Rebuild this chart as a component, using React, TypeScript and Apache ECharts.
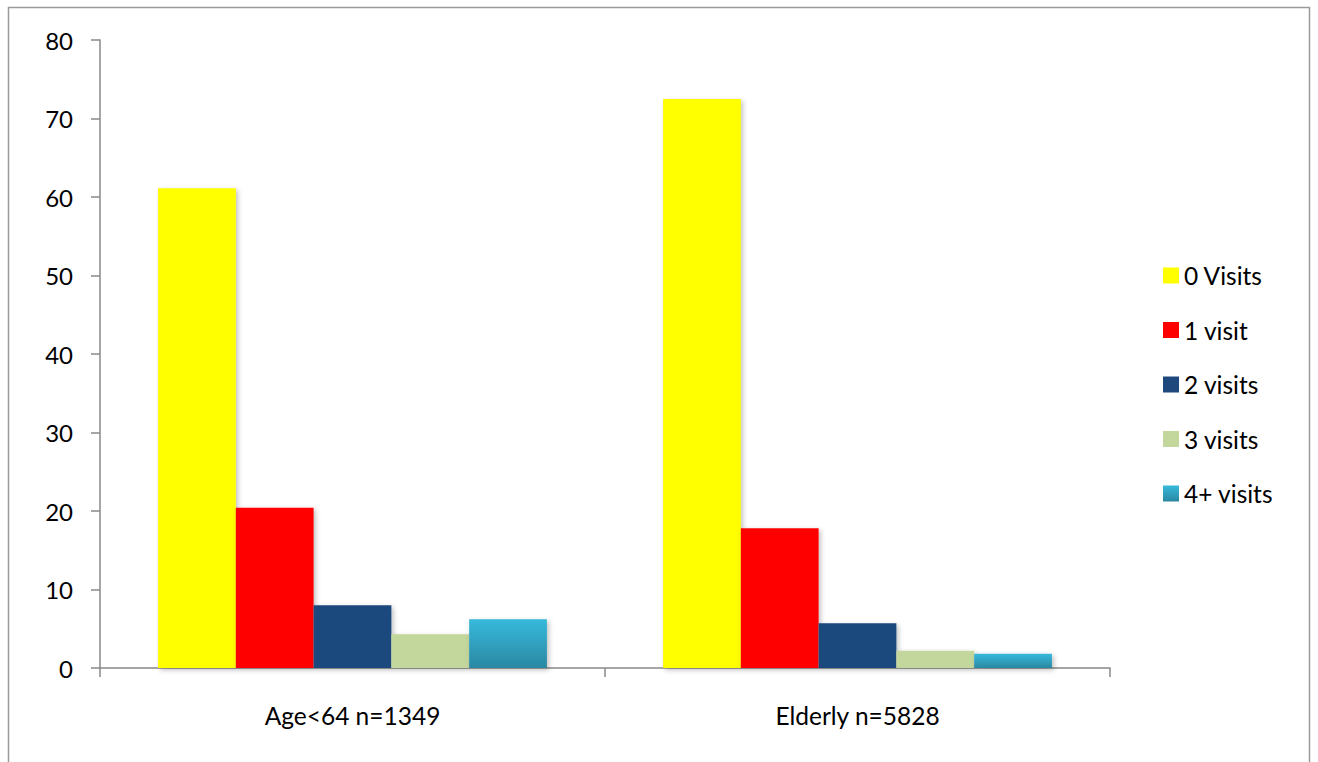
import React, { useEffect, useRef } from "react";
import * as echarts from "echarts";

// Share of patients (%) by number of visits, per age group
const categories = ["Age<64 n=1349", "Elderly n=5828"];
const seriesNames = ["0 Visits", "1 visit", "2 visits", "3 visits", "4+ visits"];
const zeroVisits = [61.1, 72.5];
const oneVisit = [20.4, 17.8];
const twoVisits = [8.0, 5.7];
const threeVisits = [4.3, 2.2];
const fourPlusVisits = [6.2, 1.8];
const yTicks = { min: 0, max: 80, interval: 10 };

const FONT = "Lato, 'Open Sans', sans-serif";

export default function App() {
  const ref = useRef<HTMLDivElement>(null);

  useEffect(() => {
    if (!ref.current) return;
    const chart = echarts.init(ref.current, undefined, { renderer: "svg" });

    const cyanGradient = new echarts.graphic.LinearGradient(0, 0, 0, 1, [
      { offset: 0, color: "#37b9dc" },
      { offset: 1, color: "#2a88a2" },
    ]);
    const colors: any[] = ["#ffff00", "#ff0000", "#1f497d", "#c3d69b", cyanGradient];
    const values = [zeroVisits, oneVisit, twoVisits, threeVisits, fourPlusVisits];

    chart.setOption({
      animation: false,
      backgroundColor: "#ffffff",
      textStyle: { fontFamily: FONT },
      graphic: [
        {
          type: "rect",
          shape: { x: 8.5, y: 7.5, width: 1301, height: 800 },
          style: { fill: "none", stroke: "#9a9a9a", lineWidth: 1.5 },
          silent: true,
          z: -1,
        },
      ],
      grid: { left: 100, top: 40, right: 208, bottom: 94, containLabel: false },
      legend: {
        orient: "vertical",
        left: 1158,
        top: 258,
        itemWidth: 16,
        itemHeight: 16,
        itemGap: 29.5,
        icon: "rect",
        data: seriesNames,
        textStyle: { fontSize: 24.5, color: "#000", fontFamily: FONT, padding: [0, 0, 0, 0] },
      },
      xAxis: {
        type: "category",
        data: categories,
        axisLine: { lineStyle: { color: "#888", width: 1.5 } },
        axisTick: { show: true, length: 9, lineStyle: { color: "#888", width: 1.5 } },
        axisLabel: { fontSize: 24.5, color: "#000", margin: 35, fontFamily: FONT },
      },
      yAxis: {
        type: "value",
        min: yTicks.min,
        max: yTicks.max,
        interval: yTicks.interval,
        splitLine: { show: false },
        axisLine: { show: true, lineStyle: { color: "#888", width: 1.5 } },
        axisTick: { show: true, length: 9, lineStyle: { color: "#888", width: 1.5 } },
        axisLabel: { fontSize: 24, color: "#000", margin: 27, fontFamily: FONT },
      },
      series: seriesNames.map((name, i) => ({
        name,
        type: "bar",
        data: values[i],
        barGap: "0%",
        barCategoryGap: "23%",
        itemStyle: {
          color: colors[i],
          shadowBlur: 5,
          shadowColor: "rgba(0,0,0,0.25)",
          shadowOffsetX: 2,
          shadowOffsetY: 2,
        },
      })),
    });

    return () => chart.dispose();
  }, []);

  return (
    <div
      ref={ref}
      style={{ position: "fixed", left: 0, top: 0, width: 1318, height: 762 }}
    />
  );
}
